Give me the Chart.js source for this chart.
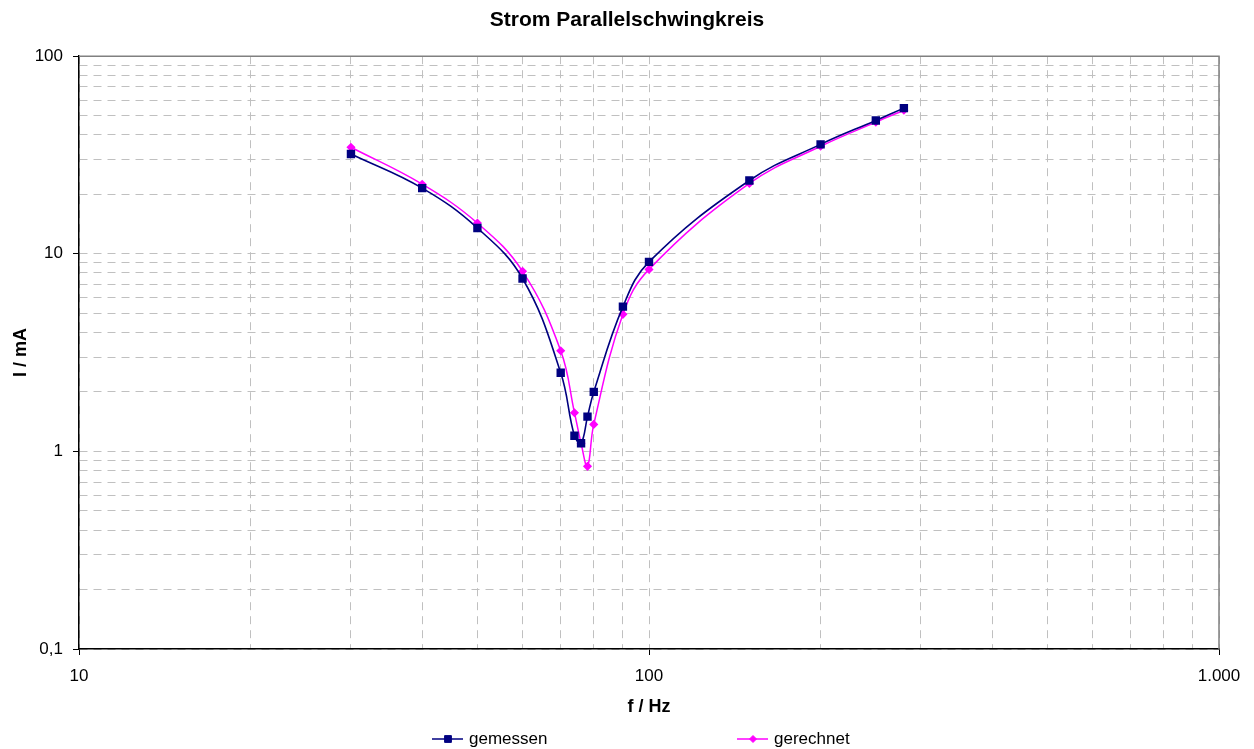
<!DOCTYPE html>
<html><head><meta charset="utf-8">
<script src="https://cdn.jsdelivr.net/npm/chart.js@4.4.1/dist/chart.umd.min.js"></script>
<style>html,body{margin:0;padding:0;background:#fff}canvas{display:block}</style>
</head><body>
<canvas id="c" width="1254" height="749"></canvas>
<script>
// ---- data ----
const frequencies = [30, 40, 50, 60, 70, 74, 76, 78, 80, 90, 100, 150, 200, 250, 280];
const gemessen    = [32, 21.5, 13.5, 7.5, 2.5, 1.2, 1.1, 1.5, 2.0, 5.4, 9.1, 23.5, 35.8, 47.3, 54.6];
const gerechnet   = [34.6, 22.5, 14.3, 8.15, 3.23, 1.57, 1.1, 0.84, 1.37, 4.94, 8.34, 22.7, 35.0, 46.4, 53.3];
const seriesNames = ['gemessen', 'gerechnet'];
const xTickValues = [10, 100, 1000];
const xTickLabels = ['10', '100', '1.000'];
const yTickValues = [0.1, 1, 10, 100];
const yTickLabels = ['0,1', '1', '10', '100'];
const titleText = 'Strom Parallelschwingkreis';
const xTitle = 'f / Hz';
const yTitle = 'I / mA';

const FONT = "'Liberation Sans', Arial, sans-serif";
const NAVY = '#000080', MAGENTA = '#FF00FF', GRID = '#c0c0c0';

function decadeTicks(majors) {
  const out = [];
  for (let i = 0; i < majors.length; i++) {
    out.push({value: majors[i], major: true});
    if (i < majors.length - 1) {
      for (let k = 2; k <= 9; k++) out.push({value: majors[i] * k, major: false});
    }
  }
  return out;
}
function labelFor(values, labels, v) {
  for (let i = 0; i < values.length; i++) if (Math.abs(values[i] - v) / values[i] < 1e-6) return labels[i];
  return '';
}
function isMajor(values, v) { return labelFor(values, values.map(String), v) !== ''; }

const toPoints = ys => frequencies.map((f, i) => ({x: f, y: ys[i]}));

function drawMarker(ctx, style, x, y, r, color) {
  ctx.fillStyle = color; ctx.strokeStyle = color; ctx.lineWidth = 1;
  ctx.beginPath();
  if (style === 'rect') { const s = r * Math.SQRT1_2; ctx.rect(x - s, y - s, 2 * s, 2 * s); }
  else { ctx.moveTo(x - r, y); ctx.lineTo(x, y - r); ctx.lineTo(x + r, y); ctx.lineTo(x, y + r); ctx.closePath(); }
  ctx.fill(); ctx.stroke();
}

const extras = {
  id: 'extras',
  afterDraw(chart) {
    const {ctx, chartArea: a} = chart;
    ctx.save();
    ctx.setLineDash([]);
    ctx.strokeStyle = '#808080'; ctx.lineWidth = 1.5;
    ctx.beginPath();
    ctx.moveTo(a.left, a.top); ctx.lineTo(a.right, a.top); ctx.lineTo(a.right, a.bottom);
    ctx.stroke();
    // legend
    const ly = 739;
    const starts = [a.left + 353, a.left + 658];
    chart.data.datasets.forEach((ds, i) => {
      const x0 = starts[i];
      ctx.strokeStyle = ds.borderColor; ctx.lineWidth = 1.5;
      ctx.beginPath(); ctx.moveTo(x0, ly); ctx.lineTo(x0 + 31, ly); ctx.stroke();
      drawMarker(ctx, ds.pointStyle, x0 + 16, ly, ds.pointRadius, ds.borderColor);
      ctx.fillStyle = '#000';
      ctx.font = '17px ' + FONT;
      ctx.textBaseline = 'middle'; ctx.textAlign = 'left';
      ctx.fillText(ds.label, x0 + 37, ly);
    });
    ctx.restore();
  }
};

new Chart(document.getElementById('c'), {
  type: 'scatter',
  data: {
    datasets: [
      {label: seriesNames[0], data: toPoints(gemessen), showLine: true, borderColor: NAVY, backgroundColor: NAVY,
       borderWidth: 1.6, pointStyle: 'rect', pointRadius: 4.8, pointHoverRadius: 4.8, tension: 0.4},
      {label: seriesNames[1], data: toPoints(gerechnet), showLine: true, borderColor: MAGENTA, backgroundColor: MAGENTA,
       borderWidth: 1.5, pointStyle: 'rectRot', pointRadius: 3.5, pointHoverRadius: 3.5, tension: 0.4}
    ]
  },
  options: {
    responsive: false,
    animation: false,
    layout: {padding: {left: 0, right: 0, top: 0, bottom: 30}},
    plugins: {
      legend: {display: false},
      tooltip: {enabled: false},
      title: {display: true, text: titleText, color: '#000',
              font: {family: FONT, size: 21, weight: 'bold'}, padding: {top: 8, bottom: 23}}
    },
    scales: {
      x: {
        type: 'logarithmic', min: 10, max: 1000,
        afterBuildTicks: s => { s.ticks = decadeTicks(xTickValues); },
        afterFit: s => { s.height = 70; },
        ticks: {autoSkip: false, maxRotation: 0, color: '#000', padding: 11,
                font: {family: FONT, size: 17},
                callback: v => labelFor(xTickValues, xTickLabels, v)},
        grid: {color: GRID, lineWidth: 1, tickLength: 6,
               tickColor: c => (c.tick && isMajor(xTickValues, c.tick.value)) ? '#000' : 'rgba(0,0,0,0)'},
        border: {display: true, color: '#000', width: 1.5, dash: [8, 6]},
        title: {display: true, text: xTitle, color: '#000', font: {family: FONT, size: 18, weight: 'bold'},
                padding: {top: 4, bottom: 1}}
      },
      y: {
        type: 'logarithmic', min: 0.1, max: 100,
        afterBuildTicks: s => { s.ticks = decadeTicks(yTickValues); },
        afterFit: s => { s.width = 79; },
        ticks: {autoSkip: false, color: '#000', padding: 10,
                font: {family: FONT, size: 17},
                callback: v => labelFor(yTickValues, yTickLabels, v)},
        grid: {color: GRID, lineWidth: 1, tickLength: 6,
               tickColor: c => (c.tick && isMajor(yTickValues, c.tick.value)) ? '#000' : 'rgba(0,0,0,0)'},
        border: {display: true, color: '#000', width: 1.5, dash: [8, 6]},
        title: {display: true, text: yTitle, color: '#000', font: {family: FONT, size: 18, weight: 'bold'},
                padding: {top: 10, bottom: 0}}
      },
      yRightSpace: {
        type: 'linear', position: 'right', min: 0, max: 1,
        afterFit: s => { s.width = 35; },
        ticks: {display: false}, grid: {display: false, drawTicks: false}, border: {display: false},
        title: {display: false}
      }
    }
  },
  plugins: [extras]
});
</script>
</body></html>
